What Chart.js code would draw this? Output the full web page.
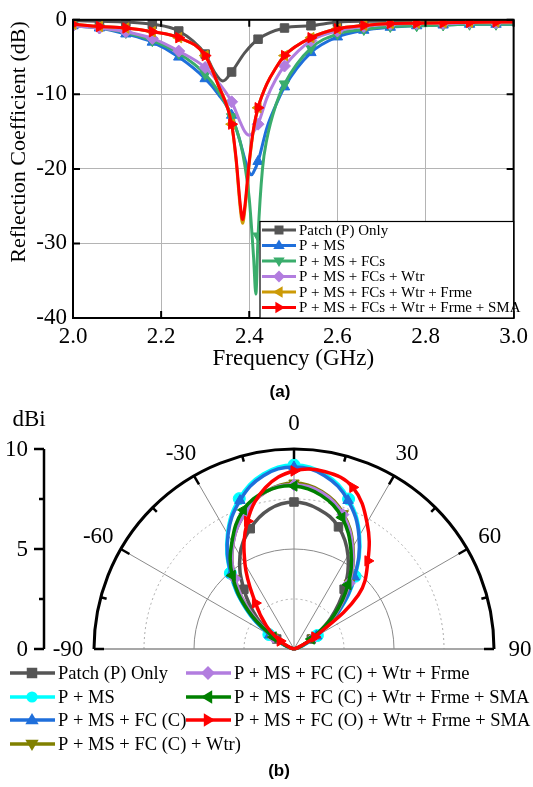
<!DOCTYPE html>
<html>
<head>
<meta charset="utf-8">
<script src="https://cdn.jsdelivr.net/npm/chart.js"></script>
<style>
  html, body { margin: 0; padding: 0; background: #fff; }
  #wrap { position: relative; width: 533px; height: 787px; }
  #s11 { position: absolute; left: 0; top: 0; }
  #gain { position: absolute; left: 0; top: 400px; }
</style>
</head>
<body>
<div id="wrap">
  <canvas id="s11" width="533" height="400"></canvas>
  <canvas id="gain" width="533" height="387"></canvas>
</div>
<script>
const SERIF = '"Liberation Serif", "Times New Roman", serif';
const SANS = '"Liberation Sans", Arial, sans-serif';

// ---------- (a) reflection coefficient data ----------
const markerFreqs = [2.00, 2.06, 2.12, 2.18, 2.24, 2.30, 2.36, 2.42, 2.48, 2.54, 2.60, 2.66, 2.72, 2.78, 2.84, 2.90, 2.96];
const xTicks = [2.0, 2.2, 2.4, 2.6, 2.8, 3.0];
const yTicks = [-40, -30, -20, -10, 0];

const freqPatch = [2.00, 2.06, 2.12, 2.18, 2.24, 2.30, 2.32, 2.34, 2.36, 2.39, 2.42, 2.48, 2.54, 2.60, 2.66, 2.72, 2.78, 2.84, 2.90, 2.96, 3.00];
const dbPatch   = [-0.1, -0.2, -0.3, -0.6, -1.5, -4.6, -6.9, -8.2, -7.0, -4.4, -2.6, -1.1, -0.8, -0.3, -0.2, -0.2, -0.2, -0.2, -0.2, -0.2, -0.2];

const freqMs = [2.00, 2.06, 2.12, 2.18, 2.24, 2.30, 2.33, 2.36, 2.38, 2.39, 2.40, 2.405, 2.41, 2.42, 2.44, 2.46, 2.48, 2.54, 2.60, 2.66, 2.72, 2.78, 2.84, 2.90, 2.96, 3.00];
const dbMs   = [-0.8, -1.1, -1.9, -3.0, -5.0, -7.9, -10.0, -12.8, -16.5, -18.7, -20.5, -20.8, -20.4, -19.0, -14.5, -11.5, -9.0, -4.4, -2.3, -1.4, -1.0, -0.8, -0.7, -0.6, -0.6, -0.6];

const freqFcs = [2.00, 2.06, 2.12, 2.18, 2.24, 2.30, 2.33, 2.36, 2.38, 2.39, 2.40, 2.41, 2.415, 2.42, 2.43, 2.44, 2.46, 2.48, 2.54, 2.60, 2.66, 2.72, 2.78, 2.84, 2.90, 2.96, 3.00];
const dbFcs   = [-0.8, -1.1, -1.7, -2.8, -4.5, -7.3, -9.6, -13.0, -16.5, -19.5, -24.0, -32.0, -36.8, -29.0, -20.0, -16.0, -11.5, -8.6, -3.8, -1.9, -1.3, -0.9, -0.8, -0.7, -0.6, -0.6, -0.6];

const freqWtr = [2.00, 2.06, 2.12, 2.18, 2.24, 2.30, 2.33, 2.36, 2.38, 2.39, 2.40, 2.41, 2.42, 2.44, 2.46, 2.48, 2.54, 2.60, 2.66, 2.72, 2.78, 2.84, 2.90, 2.96, 3.00];
const dbWtr   = [-0.8, -1.1, -1.6, -2.5, -4.2, -6.4, -8.4, -11.0, -13.8, -15.0, -15.5, -15.0, -14.0, -10.5, -8.0, -6.2, -2.8, -1.5, -0.9, -0.6, -0.5, -0.5, -0.4, -0.4, -0.4];

const freqFrme = [2.00, 2.06, 2.12, 2.18, 2.24, 2.30, 2.33, 2.36, 2.37, 2.38, 2.385, 2.39, 2.40, 2.41, 2.42, 2.44, 2.46, 2.48, 2.54, 2.60, 2.66, 2.72, 2.78, 2.84, 2.90, 2.96, 3.00];
const dbFrme   = [-0.6, -0.9, -1.1, -1.6, -2.4, -4.8, -8.8, -14.0, -18.8, -25.5, -27.3, -25.5, -19.3, -14.6, -11.8, -8.6, -6.5, -4.8, -2.4, -1.2, -0.75, -0.5, -0.45, -0.4, -0.35, -0.3, -0.3];

const freqSma = [2.00, 2.06, 2.12, 2.18, 2.24, 2.30, 2.33, 2.36, 2.37, 2.38, 2.385, 2.39, 2.40, 2.41, 2.42, 2.44, 2.46, 2.48, 2.54, 2.60, 2.66, 2.72, 2.78, 2.84, 2.90, 2.96, 3.00];
const dbSma   = [-0.6, -0.9, -1.1, -1.6, -2.4, -4.8, -8.8, -14.0, -18.5, -25.0, -26.8, -25.0, -19.0, -14.5, -11.8, -8.6, -6.5, -4.8, -2.4, -1.2, -0.75, -0.5, -0.45, -0.4, -0.35, -0.3, -0.3];

// legend order
const s11Series = [
  { label: 'Patch (P) Only', color: '#555555', style: 'rect', rot: 0, f: freqPatch, v: dbPatch },
  { label: 'P + MS', color: '#1f6fdb', style: 'triangle', rot: 0, f: freqMs, v: dbMs },
  { label: 'P + MS + FCs', color: '#3aad6c', style: 'triangle', rot: 180, f: freqFcs, v: dbFcs },
  { label: 'P + MS + FCs + Wtr', color: '#b27ddf', style: 'rectRot', rot: 0, f: freqWtr, v: dbWtr },
  { label: 'P + MS + FCs + Wtr + Frme', color: '#cc9a06', style: 'triangle', rot: -90, f: freqFrme, v: dbFrme },
  { label: 'P + MS + FCs + Wtr + Frme + SMA', color: '#ff0000', style: 'triangle', rot: 90, f: freqSma, v: dbSma }
];

// ---------- (b) radiation pattern data ----------
const angles = [-90, -80, -70, -60, -50, -40, -30, -20, -10, 0, 10, 20, 30, 40, 50, 60, 70, 80, 90];
const markerAngles = [-60, -40, -20, 0, 20, 40, 60];
const gainPatch = [0, 0, 0.3, 1.0, 2.4, 3.9, 5.4, 6.4, 7.1, 7.35, 7.1, 6.5, 5.4, 3.9, 2.4, 1.0, 0.3, 0, 0];
const gainMs    = [0, 0, 0.4, 1.45, 3.15, 4.95, 6.65, 8.0, 8.88, 9.2, 8.88, 7.98, 6.55, 4.75, 2.95, 1.35, 0.4, 0, 0];
const gainFc    = [0, 0, 0.4, 1.4, 3.1, 4.9, 6.6, 7.9, 8.8, 9.1, 8.8, 7.9, 6.5, 4.7, 2.9, 1.3, 0.4, 0, 0];
const gainWtr   = [0, 0, 0.3, 1.2, 2.8, 4.6, 6.1, 7.2, 8.0, 8.3, 8.0, 7.2, 5.9, 4.3, 2.7, 1.1, 0.3, 0, 0];
const gainFrme  = [0, 0, 0.3, 1.2, 2.8, 4.6, 6.1, 7.2, 8.0, 8.2, 7.95, 7.15, 5.85, 4.3, 2.7, 1.1, 0.3, 0, 0];
const gainSma   = [0, 0, 0.3, 1.2, 3.0, 4.8, 6.2, 7.4, 8.0, 8.15, 7.8, 7.0, 5.7, 4.2, 2.6, 1.0, 0.3, 0, 0];
const gainOpen  = [0, 0, 0.2, 0.8, 1.8, 3.0, 4.9, 6.8, 8.2, 8.9, 9.0, 8.6, 7.3, 5.75, 4.2, 1.2, 0.2, 0, 0];
const gainTicks = [0, 5, 10];
const angleLabels = [-90, -60, -30, 0, 30, 60, 90];

const gainSeries = [
  { label: 'Patch (P) Only', color: '#555555', style: 'rect', rot: 0, g: gainPatch },
  { label: 'P + MS', color: '#00ffff', style: 'circle', rot: 0, g: gainMs },
  { label: 'P + MS + FC (C)', color: '#1f6fdb', style: 'triangle', rot: 0, g: gainFc },
  { label: 'P + MS + FC (C) + Wtr)', color: '#808000', style: 'triangle', rot: 180, g: gainWtr },
  { label: 'P + MS + FC (C) + Wtr + Frme', color: '#b27ddf', style: 'rectRot', rot: 0, g: gainFrme },
  { label: 'P + MS + FC (C) + Wtr + Frme + SMA', color: '#008000', style: 'triangle', rot: -90, g: gainSma },
  { label: 'P + MS + FC (O) + Wtr + Frme + SMA', color: '#ff0000', style: 'triangle', rot: 90, g: gainOpen }
];

// small marker painter for the legends
function drawMarker(ctx, style, x, y, r, rot, color) {
  ctx.save();
  ctx.translate(x, y);
  ctx.rotate(rot * Math.PI / 180);
  ctx.fillStyle = color;
  ctx.beginPath();
  if (style === 'rect') {
    ctx.rect(-r * 0.75, -r * 0.75, r * 1.5, r * 1.5);
  } else if (style === 'rectRot') {
    ctx.moveTo(0, -r); ctx.lineTo(r, 0); ctx.lineTo(0, r); ctx.lineTo(-r, 0); ctx.closePath();
  } else if (style === 'triangle') {
    ctx.moveTo(0, -r); ctx.lineTo(r * 0.95, r * 0.6); ctx.lineTo(-r * 0.95, r * 0.6); ctx.closePath();
  } else {
    ctx.arc(0, 0, r * 0.8, 0, Math.PI * 2);
  }
  ctx.fill();
  ctx.restore();
}

function isNear(list, v) {
  return list.some(m => Math.abs(m - v) < 1e-6);
}

// ---------- chart (a) ----------
const s11Frame = {
  id: 's11Frame',
  afterDraw(chart) {
    const ctx = chart.ctx;
    const a = chart.chartArea;
    const xs = chart.scales.x, ys = chart.scales.y;
    ctx.save();
    // frame
    ctx.strokeStyle = '#000';
    ctx.lineWidth = 2;
    ctx.strokeRect(a.left, a.top, a.right - a.left, a.bottom - a.top);
    // inward ticks
    ctx.beginPath();
    xTicks.forEach(v => {
      const px = xs.getPixelForValue(v);
      ctx.moveTo(px, a.bottom); ctx.lineTo(px, a.bottom - 7);
      ctx.moveTo(px, a.top); ctx.lineTo(px, a.top + 7);
    });
    yTicks.forEach(v => {
      const py = ys.getPixelForValue(v);
      ctx.moveTo(a.left, py); ctx.lineTo(a.left + 7, py);
      ctx.moveTo(a.right, py); ctx.lineTo(a.right - 7, py);
    });
    ctx.stroke();

    // axis titles
    ctx.fillStyle = '#000';
    ctx.textAlign = 'center';
    ctx.textBaseline = 'middle';
    ctx.font = '23px ' + SERIF;
    ctx.fillText('Frequency (GHz)', (a.left + a.right) / 2, 359);
    ctx.save();
    ctx.translate(19, 142);
    ctx.rotate(-Math.PI / 2);
    ctx.font = '22px ' + SERIF;
    ctx.fillText('Reflection Coefficient (dB)', 0, 0);
    ctx.restore();
    ctx.font = 'bold 17px ' + SANS;
    ctx.fillText('(a)', 280, 392);

    // legend box
    const bx = 260, by = 221.5, bw = a.right - 260, bh = a.bottom - 221.5;
    ctx.fillStyle = '#fff';
    ctx.fillRect(bx, by, bw, bh);
    ctx.strokeStyle = '#000';
    ctx.lineWidth = 1.2;
    ctx.strokeRect(bx, by, bw, bh);
    ctx.font = '15px ' + SERIF;
    ctx.textAlign = 'left';
    s11Series.forEach((s, i) => {
      const y = 230 + i * 15.5;
      ctx.strokeStyle = s.color;
      ctx.lineWidth = 3;
      ctx.beginPath();
      ctx.moveTo(262, y); ctx.lineTo(296, y);
      ctx.stroke();
      drawMarker(ctx, s.style, 279, y, 6, s.rot, s.color);
      ctx.fillStyle = '#000';
      ctx.fillText(s.label, 299, y + 1);
    });
    ctx.restore();
  }
};

const s11Datasets = s11Series.slice().reverse().map(s => ({
  label: s.label,
  data: s.f.map((f, i) => ({ x: f, y: s.v[i] })),
  showLine: true,
  borderColor: s.color,
  backgroundColor: s.color,
  borderWidth: 3,
  cubicInterpolationMode: 'monotone',
  pointStyle: s.style,
  rotation: s.rot,
  pointBorderWidth: 1,
  pointRadius: c => (c.raw && isNear(markerFreqs, c.raw.x)) ? 6 : 0,
  pointHoverRadius: c => (c.raw && isNear(markerFreqs, c.raw.x)) ? 6 : 0
}));

new Chart(document.getElementById('s11'), {
  type: 'scatter',
  data: { datasets: s11Datasets },
  options: {
    responsive: false,
    animation: false,
    devicePixelRatio: 1,
    layout: { padding: { top: 15, right: 15, left: 0, bottom: 0 } },
    plugins: { legend: { display: false }, tooltip: { enabled: false } },
    scales: {
      x: {
        type: 'linear', min: 2, max: 3,
        afterBuildTicks: s => { s.ticks = xTicks.map(v => ({ value: v })); },
        ticks: { callback: v => Number(v).toFixed(1), font: { family: SERIF, size: 23 }, color: '#000', padding: 5, maxRotation: 0, autoSkip: false },
        grid: { color: '#b4b4b4', lineWidth: 1, drawTicks: false },
        border: { color: '#000', width: 2 },
        afterFit: s => { s.height = 82; }
      },
      y: {
        type: 'linear', min: -40, max: 0,
        afterBuildTicks: s => { s.ticks = yTicks.map(v => ({ value: v })); },
        ticks: { font: { family: SERIF, size: 23 }, color: '#000', padding: 6 },
        grid: { color: '#b4b4b4', lineWidth: 1, drawTicks: false },
        border: { color: '#000', width: 2 },
        afterFit: s => { s.width = 73; }
      }
    }
  },
  plugins: [s11Frame]
});

// ---------- chart (b) ----------
const polarGrid = {
  id: 'polarGrid',
  beforeDatasetsDraw(chart) {
    const ctx = chart.ctx;
    const xs = chart.scales.x, ys = chart.scales.y;
    const cx = xs.getPixelForValue(0), cy = ys.getPixelForValue(0);
    const unit = xs.getPixelForValue(1) - cx;
    const R = 10 * unit;
    ctx.save();
    // dotted rings
    ctx.strokeStyle = '#aaaaaa';
    ctx.lineWidth = 1;
    ctx.setLineDash([2, 3]);
    [2.5, 7.5].forEach(g => {
      ctx.beginPath(); ctx.arc(cx, cy, g * unit, Math.PI, 2 * Math.PI); ctx.stroke();
    });
    ctx.setLineDash([]);
    ctx.strokeStyle = '#8a8a8a';
    ctx.beginPath(); ctx.arc(cx, cy, 5 * unit, Math.PI, 2 * Math.PI); ctx.stroke();
    // spokes
    [-60, -30, 0, 30, 60].forEach(a => {
      const t = a * Math.PI / 180;
      ctx.beginPath();
      ctx.moveTo(cx, cy);
      ctx.lineTo(cx + R * Math.sin(t), cy - R * Math.cos(t));
      ctx.stroke();
    });
    ctx.lineWidth = 1.5;
    ctx.beginPath(); ctx.moveTo(cx - R, cy); ctx.lineTo(cx + R, cy); ctx.stroke();
    ctx.restore();
  },
  afterDraw(chart) {
    const ctx = chart.ctx;
    const xs = chart.scales.x, ys = chart.scales.y;
    const cx = xs.getPixelForValue(0), cy = ys.getPixelForValue(0);
    const unit = xs.getPixelForValue(1) - cx;
    const R = 10 * unit;
    ctx.save();
    // outer arc
    ctx.strokeStyle = '#000';
    ctx.lineWidth = 3;
    ctx.beginPath(); ctx.arc(cx, cy, R, Math.PI, 2 * Math.PI); ctx.stroke();
    ctx.lineWidth = 2.5;
    for (let a = -90; a <= 90; a += 15) {
      const t = a * Math.PI / 180;
      const len = (a % 30 === 0) ? 10 : 6;
      ctx.beginPath();
      ctx.moveTo(cx + R * Math.sin(t), cy - R * Math.cos(t));
      ctx.lineTo(cx + (R - len) * Math.sin(t), cy - (R - len) * Math.cos(t));
      ctx.stroke();
    }
    // angle labels
    ctx.fillStyle = '#000';
    ctx.font = '23px ' + SERIF;
    ctx.textAlign = 'center';
    ctx.textBaseline = 'middle';
    angleLabels.forEach(a => {
      const t = a * Math.PI / 180;
      const rr = R + 26;
      ctx.fillText(String(a), cx + rr * Math.sin(t), cy - rr * Math.cos(t) + 1);
    });
    // gain axis on the left
    const ax = 44;
    ctx.lineWidth = 2.5;
    ctx.beginPath();
    ctx.moveTo(ax, ys.getPixelForValue(10)); ctx.lineTo(ax, ys.getPixelForValue(0));
    ctx.stroke();
    [0, 2.5, 5, 7.5, 10].forEach(g => {
      const py = ys.getPixelForValue(g);
      const len = (g % 5 === 0) ? 10 : 5;
      ctx.beginPath(); ctx.moveTo(ax, py); ctx.lineTo(ax - len, py); ctx.stroke();
    });
    ctx.textAlign = 'right';
    gainTicks.forEach(g => ctx.fillText(String(g), 28, ys.getPixelForValue(g) + 1));
    ctx.textAlign = 'center';
    ctx.fillText('dBi', 29, 20);

    // legend
    ctx.font = '18.5px ' + SERIF;
    ctx.textAlign = 'left';
    const rowsY = [273, 297, 320, 344];
    gainSeries.forEach((s, i) => {
      const col = i < 4 ? 0 : 1;
      const row = i < 4 ? i : i - 4;
      const x0 = col === 0 ? 10 : 186;
      const y = rowsY[row];
      ctx.strokeStyle = s.color;
      ctx.lineWidth = 3.5;
      ctx.beginPath(); ctx.moveTo(x0, y); ctx.lineTo(x0 + 45, y); ctx.stroke();
      drawMarker(ctx, s.style, x0 + 22, y, 7, s.rot, s.color);
      ctx.fillStyle = '#000';
      ctx.fillText(s.label, x0 + 48, y + 1);
    });
    ctx.font = 'bold 17px ' + SANS;
    ctx.textAlign = 'center';
    ctx.fillText('(b)', 279, 371);
    ctx.restore();
  }
};

const gainDatasets = gainSeries.slice().reverse().map(s => ({
  label: s.label,
  data: angles.map((a, i) => ({
    x: s.g[i] * Math.sin(a * Math.PI / 180),
    y: s.g[i] * Math.cos(a * Math.PI / 180),
    angle: a
  })),
  showLine: true,
  borderColor: s.color,
  backgroundColor: s.color,
  borderWidth: 3.5,
  tension: 0.4,
  pointStyle: s.style,
  rotation: s.rot,
  pointBorderWidth: 1,
  pointRadius: c => (c.raw && isNear(markerAngles, c.raw.angle)) ? 6 : 0,
  pointHoverRadius: c => (c.raw && isNear(markerAngles, c.raw.angle)) ? 6 : 0
}));

new Chart(document.getElementById('gain'), {
  type: 'scatter',
  data: { datasets: gainDatasets },
  options: {
    responsive: false,
    animation: false,
    devicePixelRatio: 1,
    layout: { padding: 0 },
    plugins: { legend: { display: false }, tooltip: { enabled: false } },
    scales: {
      x: { type: 'linear', min: -14.7, max: 11.95, display: false },
      y: { type: 'linear', min: -6.9, max: 12.45, display: false }
    }
  },
  plugins: [polarGrid]
});
</script>
</body>
</html>
